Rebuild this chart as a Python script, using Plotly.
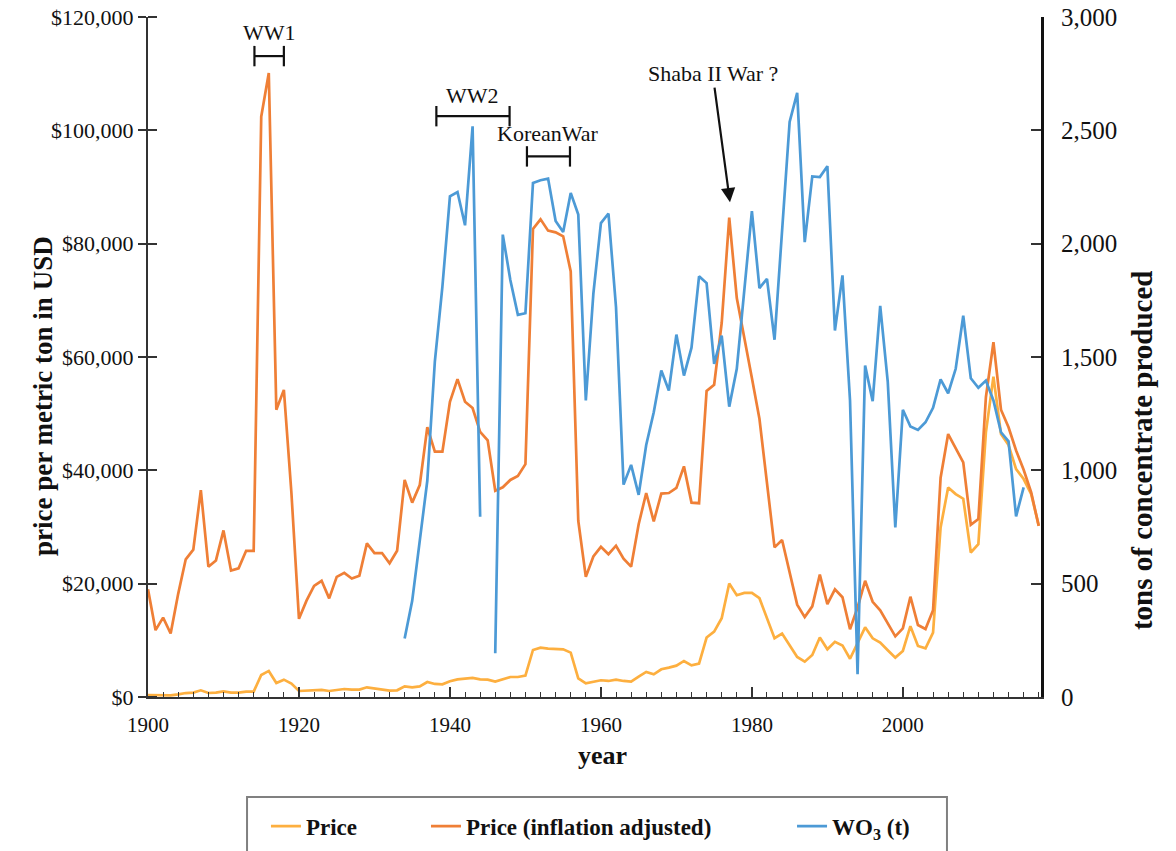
import plotly.graph_objects as go

# ---- data -------------------------------------------------------------
years = list(range(1900, 2019))

price = [
    350, 300, 300, 300, 470, 700, 770, 1180, 710, 770,            # 1900-1909
    1000, 770, 770, 940, 940, 3890, 4600, 2470, 3060, 2360,       # 1910-1919
    1060, 1120, 1180, 1240, 1060, 1300, 1410, 1300, 1300, 1710,   # 1920-1929
    1530, 1410, 1120, 1180, 1880, 1710, 1880, 2650, 2300, 2240,   # 1930-1939
    2770, 3120, 3180, 3360, 3120, 3060, 2710, 3180, 3530, 3530,   # 1940-1949
    3770, 8300, 8710, 8540, 8540, 8420, 7830, 3300, 2400, 2710,   # 1950-1959
    2950, 2830, 3060, 2830, 2710, 3590, 4420, 4010, 4890, 5180,   # 1960-1969
    5530, 6360, 5590, 5890, 10490, 11550, 13900, 20030, 17970, 18380,  # 1970-1979
    18380, 17440, 13900, 10370, 11190, 9010, 7070, 6240, 7420, 10490,  # 1980-1989
    8420, 9730, 9100, 6750, 9600, 12300, 10350, 9600, 8250, 6950,      # 1990-1999
    8130, 12490, 9010, 8600, 11360, 29920, 36990, 35810, 34990, 25500, # 2000-2009
    26970, 46700, 56540, 46420, 44470, 40230, 38460, 35810, 30220,     # 2010-2018
]

price_adjusted = [
    19000, 11800, 14000, 11200, 18200, 24300, 26000, 36500, 23000, 24100,   # 1900-1909
    29400, 22300, 22700, 25800, 25800, 102400, 110100, 50700, 54200, 36000, # 1910-1919
    13800, 17000, 19600, 20500, 17400, 21200, 21900, 20900, 21400, 27100,   # 1920-1929
    25400, 25400, 23600, 25800, 38300, 34300, 37400, 47600, 43300, 43300,   # 1930-1939
    52100, 56100, 52100, 51000, 46800, 45300, 36400, 37000, 38300, 39000,   # 1940-1949
    41100, 82600, 84300, 82300, 82000, 81300, 75100, 31100, 21200, 24800,   # 1950-1959
    26500, 25200, 26700, 24400, 23000, 30500, 36000, 31000, 35900, 36000,   # 1960-1969
    36900, 40700, 34300, 34200, 54000, 55100, 66000, 84600, 70400, 63000,   # 1970-1979
    56300, 49100, 37500, 26400, 27700, 22000, 16300, 14100, 16000, 21600,   # 1980-1989
    16400, 19000, 17600, 11960, 15800, 20500, 16800, 15300, 13000, 10700,   # 1990-1999
    12100, 17700, 12700, 12000, 15300, 38700, 46400, 44000, 41400, 30400,   # 2000-2009
    31400, 52900, 62600, 50700, 47600, 43500, 40100, 36100, 30200,          # 2010-2018
]

wo3_years = list(range(1934, 2017))
wo3_tons = [
    258, 424, 689, 954, 1480, 1810,                               # 1934-1939
    2209, 2228, 2081, 2518, 795, None, 193, 2040, 1840, 1686,     # 1940-1949
    1693, 2268, 2280, 2287, 2100, 2051, 2224, 2129, 1308, 1780,   # 1950-1959
    2091, 2133, 1720, 937, 1024, 892, 1112, 1256, 1440, 1352,     # 1960-1969
    1599, 1418, 1541, 1856, 1826, 1470, 1594, 1281, 1448, 1790,   # 1970-1979
    2144, 1804, 1845, 1576, 2055, 2537, 2665, 2007, 2297, 2294,   # 1980-1989
    2342, 1617, 1860, 1308, 100, 1462, 1305, 1726, 1390, 748,     # 1990-1999
    1267, 1193, 1178, 1212, 1276, 1401, 1340, 1448, 1682, 1406,   # 2000-2009
    1364, 1396, 1308, 1168, 1128, 797, 925,                       # 2010-2016
]

# conflict periods drawn as brackets: (label, start, end)
wars = [("WW1", 1914.1, 1918.0), ("WW2", 1938.2, 1947.9), ("KoreanWar", 1950.2, 1955.9)]
war_bracket_level = [113100, 102500, 95400]
war_label_level = [117200, 106200, 99400]

left_ticks = list(range(0, 120001, 20000))
left_labels = ["$0", "$20,000", "$40,000", "$60,000", "$80,000", "$100,000", "$120,000"]
x_label_years = list(range(1900, 2001, 20))
x_decades = list(range(1910, 2011, 20))

# ---- styling ------------------------------------------------------------
SERIF = "Liberation Serif, Times New Roman, serif"
C_PRICE = "#FDAF3F"
C_ADJ = "#EF7F36"
C_WO3 = "#4C9AD6"
INK = "#111"

fig = go.Figure()
fig.add_trace(go.Scatter(x=years, y=price, name="Price", mode="lines",
                         line=dict(color=C_PRICE, width=2.7), legend="legend"))
fig.add_trace(go.Scatter(x=years, y=price_adjusted, name="Price (inflation adjusted)",
                         mode="lines", line=dict(color=C_ADJ, width=2.7), legend="legend2"))
fig.add_trace(go.Scatter(x=wo3_years, y=wo3_tons, name="WO<sub>3</sub> (t)", mode="lines",
                         line=dict(color=C_WO3, width=2.7), yaxis="y2", legend="legend3",
                         connectgaps=False))

shapes = []
annotations = []
for (label, x0, x1), yb, yl in zip(wars, war_bracket_level, war_label_level):
    shapes.append(dict(type="line", xref="x", yref="y", x0=x0, x1=x1, y0=yb, y1=yb,
                       line=dict(color=INK, width=2.2)))
    for xe in (x0, x1):
        shapes.append(dict(type="line", xref="x", yref="y", x0=xe, x1=xe,
                           y0=yb - 1800, y1=yb + 1800, line=dict(color=INK, width=2.2)))
    annotations.append(dict(x=(x0 + x1) / 2, y=yl, xref="x", yref="y", text=label,
                            showarrow=False, font=dict(family=SERIF, size=22, color=INK)))

# Shaba II note, arrow pointing at the 1977 peak
annotations.append(dict(x=1977.1, y=87300, xref="x", yref="y", text="Shaba II War ?",
                        showarrow=True, axref="x", ayref="y", ax=1974.8, ay=110000,
                        arrowhead=2, arrowsize=1.3, arrowwidth=2.2, arrowcolor=INK,
                        font=dict(family=SERIF, size=22, color=INK)))

# axis titles
annotations.append(dict(x=-0.1366, y=0.4426, xref="paper", yref="paper", textangle=-90,
                        text="<b>price per metric ton in USD</b>", showarrow=False,
                        font=dict(family=SERIF, size=27, color=INK)))
annotations.append(dict(x=1.1333, y=0.3632, xref="paper", yref="paper", textangle=-90,
                        text="<b>tons of concentrate produced</b>", showarrow=False,
                        font=dict(family=SERIF, size=29, color=INK)))
annotations.append(dict(x=0.5084, y=-0.1103, xref="paper", yref="paper",
                        text="<b>year</b>", showarrow=False,
                        font=dict(family=SERIF, size=26, color=INK)))

# legend frame
shapes.append(dict(type="rect", xref="paper", yref="paper", x0=0.1109, x1=0.8947,
                   y0=-0.147, y1=-0.26, line=dict(color="#808080", width=2),
                   fillcolor="rgba(0,0,0,0)"))

legend_font = dict(family=SERIF, size=23, color=INK, weight="bold")
def legend_at(xp):
    return dict(x=xp, xanchor="left", y=-0.19, yanchor="middle", orientation="h",
                font=legend_font, bgcolor="rgba(0,0,0,0)", borderwidth=0)

tick_font = dict(family=SERIF, size=22, color=INK)

fig.update_layout(
    width=1176, height=851,
    margin=dict(l=148, r=135, t=17, b=154, autoexpand=False),
    paper_bgcolor="white", plot_bgcolor="white",
    font=dict(family=SERIF, size=21, color=INK),
    showlegend=True,
    legend=legend_at(0.1321),
    legend2=legend_at(0.3113),
    legend3=legend_at(0.7212),
    shapes=shapes,
    annotations=annotations,
    xaxis=dict(range=[1900, 2018.3], tickvals=x_label_years,
               ticks="inside", ticklen=10, tickwidth=1.5, tickcolor="#333",
               minor=dict(dtick=2, tick0=1900, ticks="inside", ticklen=5,
                          tickwidth=1.2, tickcolor="#333"),
               showline=True, linecolor="#333", linewidth=2, showgrid=False,
               zeroline=False, ticklabelstandoff=8,
               tickfont=dict(family=SERIF, size=21, color=INK)),
    # decade ticks between the labelled ones
    xaxis2=dict(range=[1900, 2018.3], overlaying="x", anchor="y", side="bottom",
                tickvals=x_decades, ticks="inside", ticklen=10, tickwidth=1.5,
                tickcolor="#333", showticklabels=False, showline=False,
                showgrid=False, zeroline=False),
    yaxis=dict(range=[0, 120000], tickvals=left_ticks, ticktext=left_labels,
               ticks="outside", ticklen=8, tickwidth=1.5, tickcolor="#333",
               minor=dict(tickvals=[v + 1 for v in left_ticks], ticks="inside",
                          ticklen=9, tickwidth=1.5, tickcolor="#333"),
               showline=True, linecolor="#333", linewidth=2, showgrid=False,
               zeroline=False, tickfont=tick_font),
    yaxis2=dict(range=[0, 3000], dtick=500, tickformat=",", overlaying="y", side="right",
                ticks="inside", ticklen=10, tickwidth=1.5, tickcolor="#333",
                showline=True, linecolor=INK, linewidth=3, showgrid=False,
                zeroline=False, ticklabelstandoff=12,
                tickfont=dict(family=SERIF, size=25, color=INK)),
)

fig.write_html("out.html")
